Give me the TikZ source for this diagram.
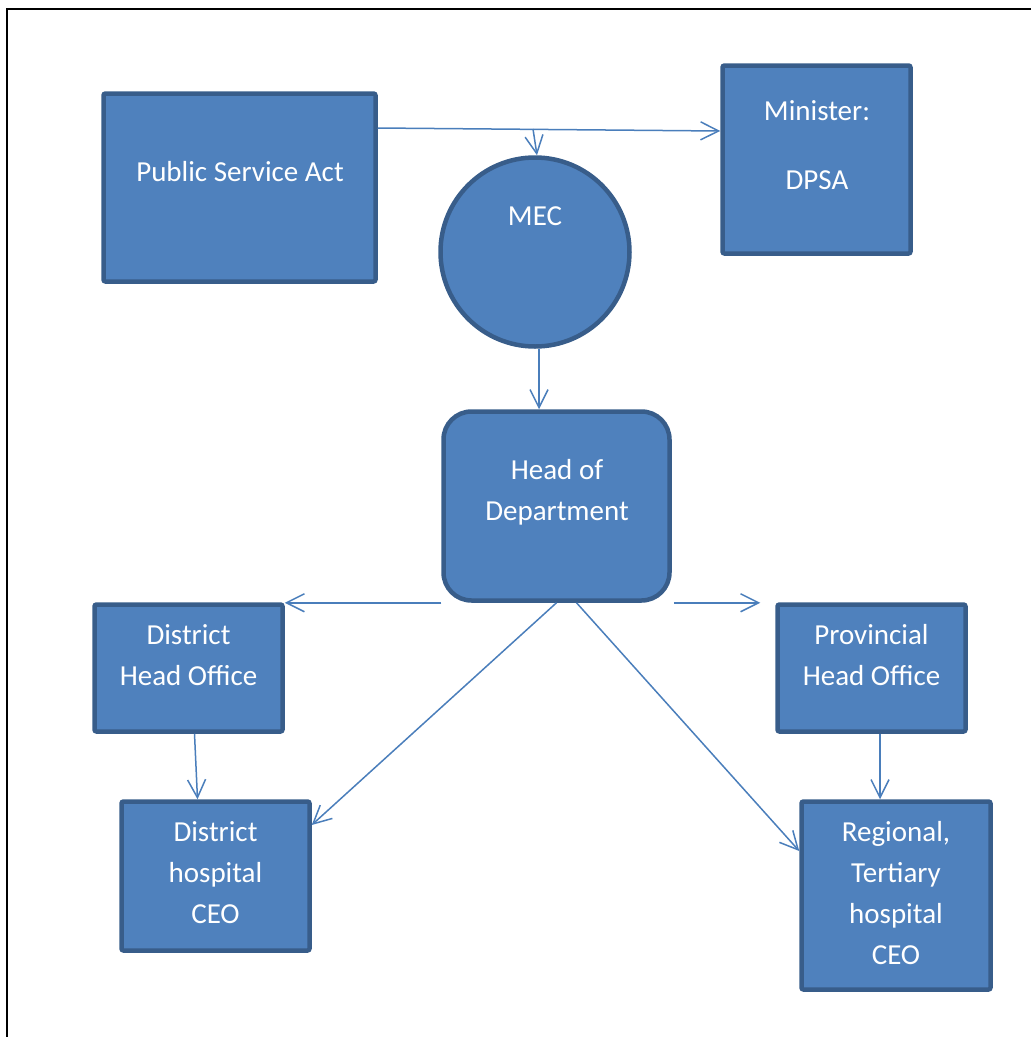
\documentclass[tikz,border=0pt]{standalone}
\usepackage{fontspec}
\setmainfont{Carlito}
\usetikzlibrary{arrows.meta,calc}
\definecolor{boxfill}{HTML}{4F81BD}
\definecolor{boxline}{HTML}{385D8A}
\definecolor{arr}{HTML}{4A7EBB}
\begin{document}
\begin{tikzpicture}[x=1pt,y=-1pt,
  box/.style={draw=boxline, fill=boxfill, line width=4.5pt, rounded corners=2pt, inner sep=0pt, rectangle},
  txt/.style={text=white, font=\fontsize{29}{41}\selectfont, align=center, inner sep=0pt},
  conn/.style={draw=arr, line width=1.5pt, -{Straight Barb[length=18pt,width=18pt,line width=1.5pt]}}]
\useasboundingbox (0,0) rectangle (1031,1037);
\draw[line width=1.5pt] (7,1037) coordinate (fb) -- (7,9) coordinate (fc) -- (1031,9) coordinate (fr);

\node[box, minimum width=272pt, minimum height=188pt] (psa) at (239.5,187.5) {};
\node[box, minimum width=188pt, minimum height=188pt] (min) at (816.5,159.5) {};
\node[draw=boxline, fill=boxfill, line width=4.5pt, circle, minimum size=189pt, inner sep=0pt] (mec) at (535,252) {};
\node[box, rounded corners=28pt, minimum width=226pt, minimum height=189pt] (hod) at (556.5,506) {};
\node[box, minimum width=188pt, minimum height=127pt] (dho) at (188.5,668) {};
\node[box, minimum width=188pt, minimum height=127pt] (pho) at (871.5,668) {};
\node[box, minimum width=188pt, minimum height=149pt] (dhc) at (215.5,876) {};
\node[box, minimum width=189pt, minimum height=188pt] (rtc) at (896,895.5) {};

\node[txt] (tpsa) at (240,172) {Public Service Act};
\node[txt] (tmin1) at (817,111) {Minister:};
\node[txt] (tmin2) at (817,180) {DPSA};
\node[txt] (tmec) at (535,216) {MEC};
\node[txt] (thod) at (557,492.5) {Head of\\Department};
\node[txt] (tdho) at (188.5,655) {District\\Head Office};
\node[txt] (tpho) at (871.5,655) {Provincial\\Head Office};
\node[txt] (tdhc) at (215.5,873) {District\\hospital\\CEO};
\node[txt] (trtc) at (896,893.5) {Regional,\\Tertiary\\hospital\\CEO};

\draw[conn] ([yshift=59.5pt]psa.east) -- ([yshift=28.5pt]min.west);
\coordinate (j) at (533,129);
\draw[conn] (j) -- ([xshift=2pt]mec.north);
\draw[conn] ([xshift=4pt]mec.south) -- ([xshift=4pt]mec.south |- hod.north);
\draw[conn] (hod.south west) -- (hod.south west -| dho.east);
\draw[conn] ($(hod.south east)+(2,0)$) -- ($(hod.south east -| pho.west)+(-15,0)$);
\draw[conn] (hod.south) -- ([yshift=51pt]dhc.east);
\draw[conn] ([xshift=20pt]hod.south) -- ([yshift=44.5pt]rtc.west);
\draw[conn] ([xshift=6pt]dho.south) -- ([xshift=-18pt]dhc.north);
\draw[conn] ([xshift=8.5pt]pho.south) -- ([xshift=-16pt]rtc.north);
\end{tikzpicture}
\end{document}
